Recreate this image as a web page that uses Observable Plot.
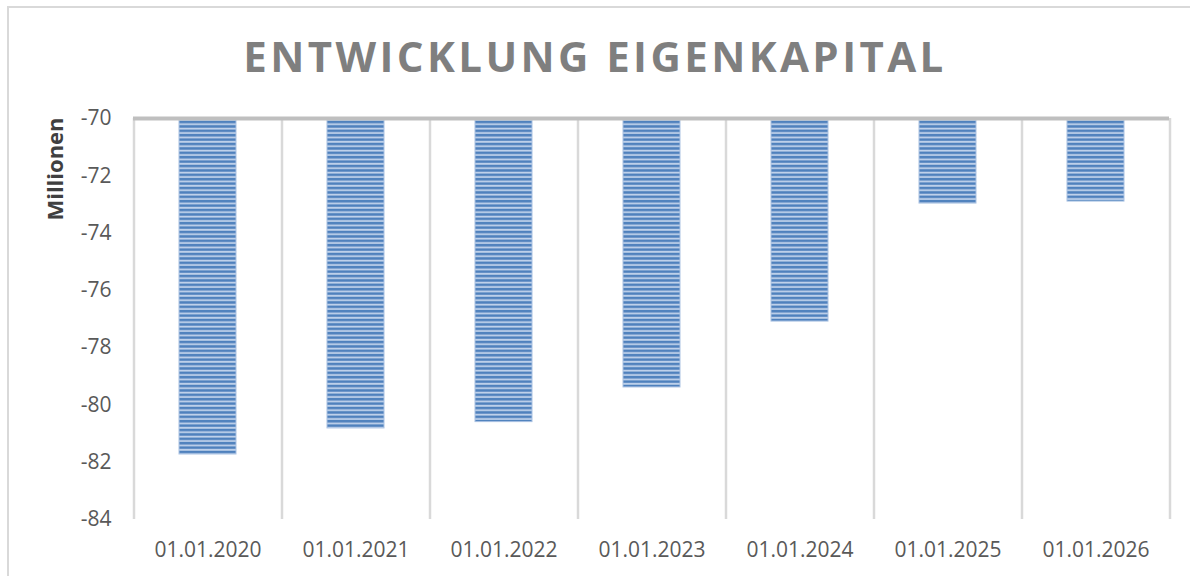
<!DOCTYPE html>
<html>
<head>
<meta charset="utf-8">
<script src="https://cdn.jsdelivr.net/npm/d3@7"></script>
<script src="https://cdn.jsdelivr.net/npm/@observablehq/plot@0.6"></script>
<style>
  html, body { margin: 0; padding: 0; background: #fff; }
  #wrap { position: relative; width: 1190px; height: 576px; overflow: hidden; font-family: "Open Sans", sans-serif; }
  #frame { position: absolute; left: 7px; top: 6px; width: 1200px; height: 600px; border: 2px solid #d9d9d9; box-sizing: border-box; }
  #title { position: absolute; left: 0; top: 26px; width: 1190px; text-align: center; font-size: 42px; font-weight: 700; color: #7f7f7f; letter-spacing: 3.4px; line-height: 60px; }
  #chart { position: absolute; left: 0; top: 0; }
</style>
</head>
<body>
<div id="wrap">
  <div id="frame"></div>
  <div id="title">ENTWICKLUNG EIGENKAPITAL</div>
  <div id="chart"></div>
</div>
<script>
const categories = ["01.01.2020", "01.01.2021", "01.01.2022", "01.01.2023", "01.01.2024", "01.01.2025", "01.01.2026"];
const values = [-81.73, -80.82, -80.6, -79.39, -77.09, -72.97, -72.9];
const yTicks = [-70, -72, -74, -76, -78, -80, -82, -84];
const baseline = -70;

const data = categories.map((c, i) => ({ date: c, value: values[i] }));

const W = 1190, H = 576, ML = 133, MR = 21, MT = 118, MB = 57;
const step = (W - ML - MR) / categories.length;
const pad = 1 - 57 / 148;

const plot = Plot.plot({
  width: W,
  height: H,
  marginLeft: ML,
  marginRight: MR,
  marginTop: MT,
  marginBottom: MB,
  style: { fontFamily: "Open Sans, sans-serif", background: "transparent", overflow: "visible" },
  x: { domain: categories, paddingInner: pad, paddingOuter: pad / 2, label: null },
  y: { domain: [-84, -70], ticks: yTicks, label: null },
  marks: [
    Plot.ruleX(categories, { x: d => d, dx: -step / 2, y1: -70, y2: -84, stroke: "#d9d9d9", strokeWidth: 2.5 }),
    Plot.ruleX([categories[categories.length - 1]], { x: d => d, dx: step / 2, y1: -70, y2: -84, stroke: "#d9d9d9", strokeWidth: 2.5 }),
    Plot.barY(data, { x: "date", y1: baseline, y2: "value", fill: "#4f81bd", stroke: "#a9c1e2", strokeWidth: 1, insetTop: 2 }),
    Plot.ruleY([baseline], { stroke: "#bfbfbf", strokeWidth: 4 }),
    Plot.axisY({ ticks: yTicks, tickSize: 0, tickPadding: 22, tickFormat: d => String(d), fontSize: 21, fill: "#595959", label: null }),
    Plot.axisX({ tickSize: 0, tickPadding: 23, fontSize: 21, fill: "#595959", label: null }),
    Plot.text(["Millionen"], { frameAnchor: "left", textAnchor: "middle", dx: -78, dy: -150, rotate: -90, text: d => d, fontSize: 22, fontWeight: "bold", fill: "#404040" })
  ]
});

// striped fill pattern
const svg = d3.select(plot);
const defs = svg.insert("defs", ":first-child");
const pat = defs.append("pattern")
  .attr("id", "stripes").attr("patternUnits", "userSpaceOnUse")
  .attr("width", 10).attr("height", 4.4).attr("y", MT + 2);
pat.append("rect").attr("width", 10).attr("height", 4.4).attr("fill", "#c3d4ec");
pat.append("rect").attr("y", 0.7).attr("width", 10).attr("height", 2.6).attr("fill", "#4f81bd");
svg.selectAll("g[aria-label=bar] rect").attr("fill", "url(#stripes)");

document.getElementById("chart").appendChild(plot);
</script>
</body>
</html>
